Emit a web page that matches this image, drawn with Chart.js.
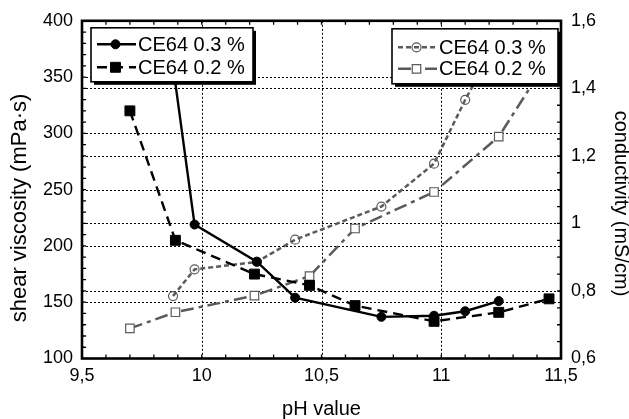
<!DOCTYPE html>
<html>
<head>
<meta charset="utf-8">
<script src="https://cdn.jsdelivr.net/npm/chart.js@4/dist/chart.umd.min.js"></script>
<style>
html,body{margin:0;padding:0;background:#fff;}
#wrap{width:629px;height:419px;position:relative;}
</style>
</head>
<body>
<div id="wrap"><canvas id="c" width="629" height="419"></canvas></div>
<script>
// ---- data ----
const seriesLabels = ['CE64 0.3 %', 'CE64 0.2 %'];
const phVisc03 = [9.88, 9.97, 10.23, 10.39, 10.75, 10.97, 11.10, 11.24];
const visc03   = [360, 219, 186, 154, 137, 138, 142, 151];
const phVisc02 = [9.70, 9.89, 10.22, 10.45, 10.64, 10.97, 11.24, 11.45];
const visc02   = [320, 205, 175, 165, 147, 133, 141, 153];
const phCond03 = [9.88, 9.97, 10.23, 10.39, 10.75, 10.97, 11.10, 11.24];
const cond03   = [0.785, 0.864, 0.886, 0.952, 1.05, 1.177, 1.366, 1.55];
const phCond02 = [9.70, 9.89, 10.22, 10.45, 10.64, 10.97, 11.24, 11.45];
const cond02   = [0.689, 0.737, 0.786, 0.844, 0.985, 1.093, 1.257, 1.49];
const xTicks   = [9.5, 10, 10.5, 11, 11.5];
const yTicks   = [100, 150, 200, 250, 300, 350, 400];
const y1Ticks  = [0.6, 0.8, 1.0, 1.2, 1.4, 1.6];

const FONT = "'Liberation Sans', Arial, Helvetica, sans-serif";
const GRAY = '#5a5a5a';
const fmt = v => String(Math.round(v * 100) / 100).replace('.', ',');
const pts = (xs, ys) => xs.map((x, i) => ({x, y: ys[i]}));

const datasets = [
  {label: seriesLabels[0], data: pts(phVisc03, visc03), yAxisID: 'y',
   borderColor: '#000', backgroundColor: '#000', borderWidth: 2.4,
   pointStyle: 'circle', pointRadius: 4.5, pointBorderWidth: 1, legendGroup: 0},
  {label: seriesLabels[1], data: pts(phVisc02, visc02), yAxisID: 'y',
   borderColor: '#000', backgroundColor: '#000', borderWidth: 2.4, borderDash: [10, 6],
   pointStyle: 'rect', pointRadius: 7, pointBorderWidth: 1, legendGroup: 0},
  {label: seriesLabels[0], data: pts(phCond03, cond03), yAxisID: 'y1',
   borderColor: GRAY, backgroundColor: 'rgba(0,0,0,0)', borderWidth: 2.5, borderDash: [5, 3],
   pointStyle: 'circle', pointRadius: 4.5, pointBorderWidth: 1.2, pointBorderColor: GRAY, legendGroup: 1},
  {label: seriesLabels[1], data: pts(phCond02, cond02), yAxisID: 'y1',
   borderColor: GRAY, backgroundColor: '#fff', borderWidth: 2.5, borderDash: [13, 5, 4, 5],
   pointStyle: 'rect', pointRadius: 6, pointBorderWidth: 1.2, pointBorderColor: GRAY, legendGroup: 1}
];

function drawMarker(ctx, ds, x, y) {
  ctx.save();
  ctx.setLineDash([]);
  ctx.lineWidth = ds.pointBorderWidth;
  ctx.strokeStyle = ds.pointBorderColor || ds.borderColor;
  ctx.fillStyle = ds.backgroundColor;
  ctx.beginPath();
  if (ds.pointStyle === 'circle') {
    ctx.arc(x, y, ds.pointRadius, 0, Math.PI * 2);
  } else {
    const s = ds.pointRadius * Math.SQRT1_2;
    ctx.rect(x - s, y - s, 2 * s, 2 * s);
  }
  ctx.fill(); ctx.stroke();
  ctx.restore();
}

const decorPlugin = {
  id: 'decor',
  beforeDatasetsDraw(chart) {
    const {ctx, chartArea: a, scales} = chart;
    ctx.save();
    // dotted grid lines at the major ticks of each axis
    ctx.strokeStyle = '#000'; ctx.lineWidth = 1; ctx.setLineDash([2, 2]);
    ctx.beginPath();
    scales.x.ticks.forEach(t => {
      if (t.value <= scales.x.min || t.value >= scales.x.max) return;
      const px = Math.round(scales.x.getPixelForValue(t.value)) + 0.5;
      ctx.moveTo(px, a.top); ctx.lineTo(px, a.bottom);
    });
    ['y', 'y1'].forEach(id => {
      const s = scales[id];
      s.ticks.forEach(t => {
        if (t.value <= s.min || t.value >= s.max) return;
        const py = Math.round(s.getPixelForValue(t.value)) + 0.5;
        ctx.moveTo(a.left, py); ctx.lineTo(a.right, py);
      });
    });
    ctx.stroke();
    // inward minor ticks
    ctx.setLineDash([]);
    ctx.lineWidth = 1.3;
    const L = 4;
    ctx.beginPath();
    for (let v = 9.6; v < 11.45; v += 0.1) {
      const px = scales.x.getPixelForValue(v);
      ctx.moveTo(px, a.bottom); ctx.lineTo(px, a.bottom - L);
      ctx.moveTo(px, a.top); ctx.lineTo(px, a.top + L);
    }
    for (let v = 110; v < 400; v += 10) {
      const py = scales.y.getPixelForValue(v);
      ctx.moveTo(a.left, py); ctx.lineTo(a.left + L, py);
    }
    for (let v = 0.65; v < 1.6; v += 0.05) {
      const py = scales.y1.getPixelForValue(v);
      ctx.moveTo(a.right, py); ctx.lineTo(a.right - L, py);
    }
    ctx.stroke();
    ctx.restore();
  },
  afterDraw(chart) {
    const {ctx, chartArea: a} = chart;
    ctx.save();
    // frame
    ctx.strokeStyle = '#000'; ctx.lineWidth = 2.6; ctx.setLineDash([]);
    ctx.strokeRect(a.left, a.top, a.right - a.left, a.bottom - a.top);
    // legends
    const boxes = [
      {x: a.left + 9, y: a.top + 7, w: 162, h: 54, rows: [a.top + 23.5, a.top + 46.5]},
      {x: a.right - 169, y: a.top + 8, w: 166, h: 55, rows: [a.top + 26.5, a.top + 48]}
    ];
    boxes.forEach((b, gi) => {
      ctx.fillStyle = '#000';
      ctx.fillRect(b.x + 3, b.y + 3, b.w, b.h);
      ctx.fillStyle = '#fff';
      ctx.fillRect(b.x, b.y, b.w, b.h);
      ctx.strokeStyle = '#000'; ctx.lineWidth = 1.6;
      ctx.strokeRect(b.x, b.y, b.w, b.h);
      const dss = chart.config.data.datasets.filter(d => d.legendGroup === gi);
      dss.forEach((ds, i) => {
        const yy = b.rows[i];
        const x0 = b.x + 6, x1 = b.x + 45;
        ctx.save();
        ctx.strokeStyle = ds.borderColor; ctx.lineWidth = ds.borderWidth;
        ctx.setLineDash(ds.borderDash || []);
        ctx.beginPath(); ctx.moveTo(x0, yy); ctx.lineTo(x1, yy); ctx.stroke();
        ctx.restore();
        drawMarker(ctx, ds, (x0 + x1) / 2 - 1, yy);
        ctx.fillStyle = '#000';
        ctx.font = '20px ' + FONT;
        ctx.textBaseline = 'middle';
        ctx.textAlign = 'left';
        ctx.fillText(ds.label, b.x + 47, yy + 1);
      });
    });
    ctx.restore();
  }
};

const gridOpts = {display: false, drawTicks: false};
const borderOpts = {display: false};

new Chart(document.getElementById('c'), {
  type: 'line',
  data: {datasets},
  plugins: [decorPlugin],
  options: {
    responsive: false,
    animation: false,
    devicePixelRatio: 1,
    layout: {padding: {left: 0, right: 0, top: 20, bottom: 0}},
    plugins: {legend: {display: false}, tooltip: {enabled: false}},
    elements: {line: {tension: 0}},
    scales: {
      x: {
        type: 'linear', min: 9.5, max: 11.5,
        afterBuildTicks: s => { s.ticks = xTicks.map(v => ({value: v})); },
        afterFit: s => { s.height = 60.5; },
        grid: gridOpts,
        border: borderOpts,
        ticks: {padding: 7, color: '#000', font: {family: FONT, size: 18}, callback: v => fmt(v), maxRotation: 0},
        title: {display: true, text: 'pH value', color: '#000', font: {family: FONT, size: 20}, padding: {top: 0, bottom: -2}}
      },
      y: {
        type: 'linear', position: 'left', min: 100, max: 400,
        afterBuildTicks: s => { s.ticks = yTicks.map(v => ({value: v})); },
        afterFit: s => { s.width = 82; },
        grid: gridOpts,
        border: borderOpts,
        ticks: {padding: 9, color: '#000', font: {family: FONT, size: 18}, callback: v => fmt(v)},
        title: {display: true, text: 'shear viscosity (mPa·s)      ', color: '#000', font: {family: FONT, size: 22}, padding: {top: 7, bottom: 0}}
      },
      y1: {
        type: 'linear', position: 'right', min: 0.6, max: 1.6,
        afterBuildTicks: s => { s.ticks = y1Ticks.map(v => ({value: v})); },
        afterFit: s => { s.width = 68; },
        grid: gridOpts,
        border: borderOpts,
        ticks: {padding: 10, color: '#000', font: {family: FONT, size: 18}, callback: v => fmt(v)},
        title: {display: true, text: '     conductivity (mS/cm)', color: '#000', font: {family: FONT, size: 20}, padding: {top: -4, bottom: 0}}
      }
    }
  }
});
</script>
</body>
</html>
